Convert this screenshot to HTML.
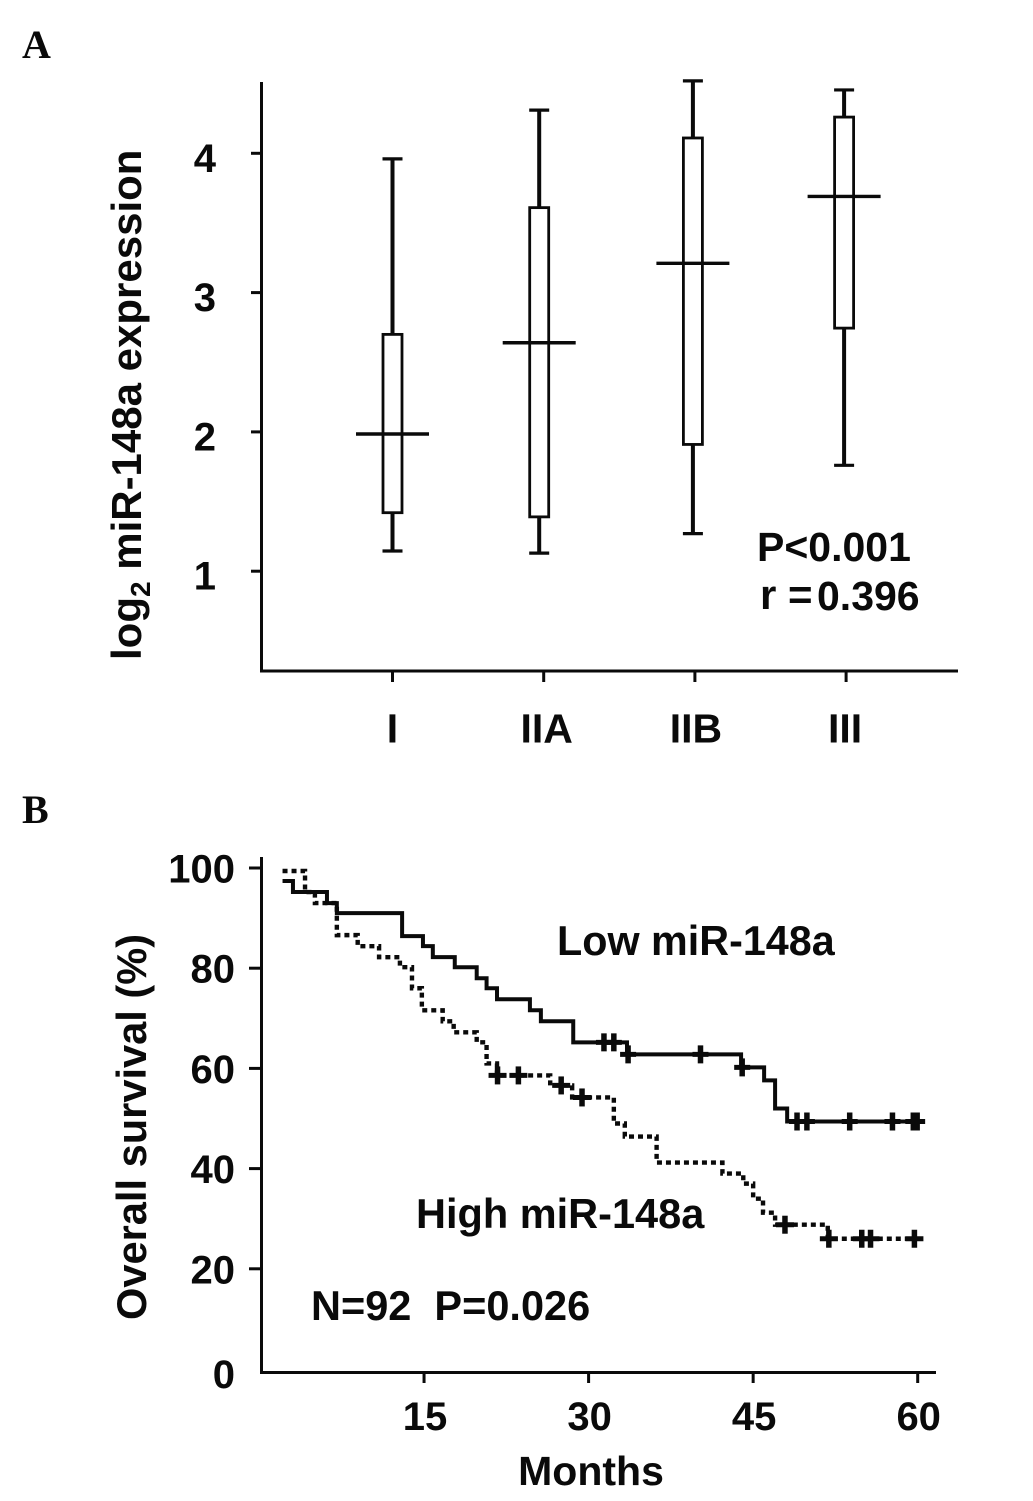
<!DOCTYPE html>
<html>
<head>
<meta charset="utf-8">
<title>miR-148a expression and survival</title>
<style>
html,body{margin:0;padding:0;background:#fff;}
svg{display:block;}
text{font-family:"Liberation Sans",sans-serif;font-weight:bold;fill:#0a0a0a;}
.panel{font-family:"Liberation Serif",serif;font-size:40px;}
</style>
</head>
<body>
<svg id="chart" xmlns="http://www.w3.org/2000/svg" width="1033" height="1501" viewBox="0 0 1033 1501">
<rect x="0" y="0" width="1033" height="1501" fill="#fff"/>
<text class="panel" x="22" y="58">A</text>
<text class="panel" x="22" y="823">B</text>
<g id="panelA"></g>
<g id="panelB"></g>
<text transform="translate(141,660) rotate(-90)" font-size="42">log<tspan font-size="28" dy="9">2</tspan><tspan dy="-9"> miR-148a expression</tspan></text>
<text x="757" y="561" font-size="41">P&lt;0.001</text>
<text x="760" y="609" font-size="42">r =</text>
<text x="817" y="610" font-size="41">0.396</text>
<text transform="translate(146,1320) rotate(-90)" font-size="41.6">Overall survival (%)</text>
<text x="591" y="1485" text-anchor="middle" font-size="41">Months</text>
<text x="557" y="955" font-size="41.3">Low miR-148a</text>
<text x="416" y="1228" font-size="41.5">High miR-148a</text>
<text x="311" y="1320" font-size="41.5" xml:space="preserve">N=92  P=0.026</text>
</svg>
<script>
// Panel A data
var stages = ['I', 'IIA', 'IIB', 'III'];
var whiskerHigh = [3.96, 4.31, 4.52, 4.455];
var boxTop = [2.70, 3.61, 4.11, 4.26];
var medians = [1.985, 2.64, 3.21, 3.69];
var boxBottom = [1.42, 1.39, 1.91, 2.745];
var whiskerLow = [1.145, 1.13, 1.27, 1.76];
var aTicks = [1, 2, 3, 4];
// Panel B data
var bTicksY = [100, 80, 60, 40, 20];
var bTicksX = [15, 30, 45, 60];
var lowMonths = [2.1, 3.05, 6.15, 7.05, 13, 14.9, 15.8, 17.8, 19.8, 20.7, 21.65, 24.65, 25.65, 28.6, 33.5, 43.9, 46, 47, 48.1, 60.2];
var lowSurv = [97.4, 95.2, 93, 91, 86.4, 84.4, 82.2, 80.2, 78, 76, 73.8, 71.6, 69.4, 65.2, 62.8, 60.2, 57.6, 52, 49.4, 49.4];
var lowCensor = [31.4, 32.3, 33.6, 40.2, 44, 49, 49.9, 53.8, 57.7, 59.6, 59.95];
var highMonths = [2.1, 4.15, 5.05, 7.05, 8.95, 10.9, 12.8, 13.9, 14.8, 16.7, 17.7, 19.8, 20.7, 21.65, 26.5, 28.5, 32.3, 33.3, 36.2, 42.2, 44.1, 45, 45.9, 47, 51.8, 60.2];
var highSurv = [99.4, 95.2, 93, 86.6, 84.4, 82.2, 80.2, 76, 71.6, 69.4, 67.2, 65.2, 61, 58.6, 56.6, 54.2, 49, 46.4, 41.2, 39, 37, 34, 31.2, 28.8, 26, 26];
var highCensor = [21.7, 23.6, 27.5, 29.4, 47.9, 51.9, 54.9, 55.7, 59.7];

var NS = 'http://www.w3.org/2000/svg';
var panelA = document.getElementById('panelA');
var panelB = document.getElementById('panelB');
var INK = '#0a0a0a';

function shape(parent, tag, attrs) {
  var el = document.createElementNS(NS, tag);
  for (var k in attrs) el.setAttribute(k, attrs[k]);
  parent.appendChild(el);
  return el;
}
function line(parent, x1, y1, x2, y2, w) {
  return shape(parent, 'line', {x1: x1, y1: y1, x2: x2, y2: y2, stroke: INK, 'stroke-width': w});
}
function label(parent, x, y, str, size, anchor) {
  var el = shape(parent, 'text', {x: x, y: y, 'font-size': size, 'text-anchor': anchor});
  el.textContent = str;
  return el;
}

// Panel A scales
function yA(v) { return 153.3 + (4 - v) * 139.3; }
function xA(i) { return 392.5 + i * 151.2; }
// Boxes sit slightly off their ticks in the source figure
function xBox(i) { return xA(i) + (i === 1 ? -4.5 : i === 2 ? -2 : i === 3 ? -2 : 0); }
function xStage(i) { return xA(i) + (i === 1 ? 3 : i === 2 ? 1 : i === 3 ? -1 : 0); }

var axisAY = line(panelA, 261.5, 82, 261.5, 672, 3);


var axisAX = line(panelA, 260, 671, 958, 671, 3);



aTicks.forEach(function (t) {
  var tick = line(panelA, 251, yA(t), 261, yA(t), 3);
  
  
  var lab = label(panelA, 216, yA(t) + 18.5, String(t), 40, 'end');
  
  
});

stages.forEach(function (s, i) {
  var x = xBox(i);
  var tick = line(panelA, xA(i), 671, xA(i), 682, 3);
  
  
  var lab = label(panelA, xStage(i), 742.5, s, 41, 'middle');
  
  

  var up = line(panelA, x, yA(whiskerHigh[i]), x, yA(boxTop[i]), 4);
  
  
  var down = line(panelA, x, yA(boxBottom[i]), x, yA(whiskerLow[i]), 4);
  
  
  var capTop = line(panelA, x - 10, yA(whiskerHigh[i]), x + 10, yA(whiskerHigh[i]), 3.2);
  
  
  var capLow = line(panelA, x - 10, yA(whiskerLow[i]), x + 10, yA(whiskerLow[i]), 3.2);
  
  
  var box = shape(panelA, 'rect', {x: x - 9.5, y: yA(boxTop[i]), width: 19, height: yA(boxBottom[i]) - yA(boxTop[i]), fill: '#fff', stroke: INK, 'stroke-width': 2.8});
  
  
  var med = line(panelA, x - 36.5, yA(medians[i]), x + 36.5, yA(medians[i]), 3.4);
  
  
});

// Panel B scales
function yB(v) { return 868 + (100 - v) * 5.01; }
function xB(m) { return 259.5 + m * 10.97; }

var axisBY = line(panelB, 261.5, 857, 261.5, 1374, 3);


var axisBX = line(panelB, 260, 1372.5, 936, 1372.5, 3);



bTicksY.forEach(function (t) {
  var tick = line(panelB, 249, yB(t), 261, yB(t), 3);
  
  
  var lab = label(panelB, 235, yB(t) + 14.5, String(t), 40, 'end');
  
  
});
var zeroLabel = label(panelB, 235, 1388, '0', 40, 'end');



bTicksX.forEach(function (t) {
  var tick = line(panelB, xB(t), 1372, xB(t), 1383, 3);
  
  
  var lab = label(panelB, xB(t) + 1, 1430, String(t), 40, 'middle');
  
  
});

function stepPath(ms, ss) {
  var d = 'M' + xB(ms[0]) + ' ' + yB(ss[0]);
  for (var i = 1; i < ms.length; i++) {
    d += 'L' + xB(ms[i]) + ' ' + yB(ss[i - 1]) + 'L' + xB(ms[i]) + ' ' + yB(ss[i]);
  }
  return d;
}
function stepValue(ms, ss, m) {
  var v = ss[0];
  for (var i = 0; i < ms.length; i++) { if (ms[i] <= m) v = ss[i]; }
  return v;
}

var lowCurve = shape(panelB, 'path', {d: stepPath(lowMonths, lowSurv), fill: 'none', stroke: INK, 'stroke-width': 4});


var highCurve = shape(panelB, 'path', {d: stepPath(highMonths, highSurv), fill: 'none', stroke: INK, 'stroke-width': 4.4, 'stroke-dasharray': '5 4'});



lowCensor.forEach(function (m) {
  var x = xB(m), y = yB(stepValue(lowMonths, lowSurv, m));
  var g = shape(panelB, 'g', {});
  
  
  line(g, x, y - 9, x, y + 9, 5.5);
  line(g, x - 8, y, x + 8, y, 5);
});
highCensor.forEach(function (m) {
  var x = xB(m), y = yB(stepValue(highMonths, highSurv, m));
  var g = shape(panelB, 'g', {});
  
  
  line(g, x, y - 9, x, y + 9, 5.5);
  line(g, x - 9, y, x + 9, y, 5);
});
</script>
</body>
</html>
